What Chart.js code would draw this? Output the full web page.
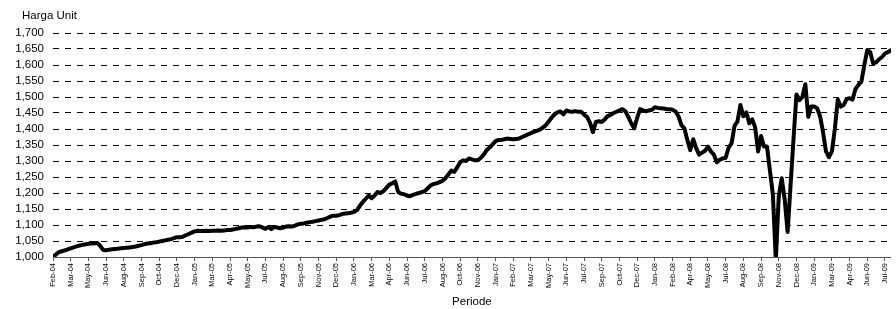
<!DOCTYPE html>
<html>
<head>
<meta charset="utf-8">
<script src="https://cdn.jsdelivr.net/npm/chart.js@4"></script>
<style>
  body { margin: 0; background: #fff; }
</style>
</head>
<body>
<canvas id="myChart" width="896" height="309"></canvas>
<script>
// label bulanan, satu label tiap 6 minggu
const tickLabels = ["Feb-04", "Mar-04", "May-04", "Jun-04", "Aug-04", "Sep-04", "Oct-04", "Dec-04",
  "Jan-05", "Mar-05", "Apr-05", "May-05", "Jul-05", "Aug-05", "Sep-05", "Nov-05", "Dec-05",
  "Jan-06", "Mar-06", "Apr-06", "Jun-06", "Jul-06", "Aug-06", "Oct-06", "Nov-06",
  "Jan-07", "Feb-07", "Mar-07", "May-07", "Jun-07", "Jul-07", "Sep-07", "Oct-07", "Dec-07",
  "Jan-08", "Feb-08", "Apr-08", "May-08", "Jul-08", "Aug-08", "Sep-08", "Nov-08", "Dec-08",
  "Jan-09", "Mar-09", "Apr-09", "Jun-09", "Jul-09"];
const weeksPerLabel = 6;

// harga unit mingguan
const hargaUnit = [
  1000,1008,1015,1018,1021,1024,1027,1030,1033,1036,1038,1040,1041,1042,1043,1044,1035,1022,
  1021,1023,1024,1025,1026,1027,1028,1029,1030,1031,1033,1035,1037,1040,1042,1043,1045,1046,
  1048,1050,1052,1054,1056,1059,1062,1062,1063,1068,1072,1076,1080,1082,1081,1081,1082,1081,
  1082,1082,1083,1082,1083,1084,1084,1086,1088,1090,1092,1093,1092,1094,1093,1095,1096,1092,
  1088,1094,1087,1094,1092,1090,1092,1095,1096,1095,1098,1102,
  1104,1105,1107,1109,1110,1112,1114,1116,1118,1122,1126,1129,1129,1131,1134,1136,1137,1138,
  1141,1146,1160,1172,1182,1192,1184,1192,1203,1200,1206,1216,1226,1230,1236,1203,1198,1196,
  1192,1190,1194,1197,1200,1203,1206,1215,1224,1228,1230,1234,1238,1246,1258,1270,1266,1280,
  1296,1302,1300,1308,1305,1302,1302,1310,1320,1334,
  1342,1352,1362,1366,1366,1368,1370,1369,1368,1369,1370,1375,1379,1383,1387,1391,1394,1398,
  1404,1412,1423,1435,1446,1452,1455,1446,1458,1455,1454,1456,1454,1454,1445,1438,1420,1390,
  1422,1424,1422,1430,1440,1444,1450,1454,1458,1462,1456,1438,1418,1402,1435,1462,1458,1455,
  1458,1460,1468,1466,1465,1464,1462,1462,1460,1455,1440,1412,1402,1366,1334,1368,1340,1320,
  1326,1332,1345,1330,1320,1296,1304,1308,1310,1342,1355,1410,1424,1475,1440,1452,1418,1430,
  1405,1330,1378,1345,1345,1270,1195,990,1190,1246,1180,1078,1225,1370,1508,1490,1500,1540,
  1438,1470,1470,1465,1440,1390,1330,1312,1330,1400,1492,1470,1475,1494,1496,1492,1525,1538,
  1548,1600,1647,1640,1605,1608,1618,1625,1636,1640,1646
];

const yTicks = { min: 1000, max: 1700, step: 50 };

const points = hargaUnit.map((v, i) => ({ x: i, y: v }));
const fontFam = "'Liberation Sans', Arial, sans-serif";

// judul sumbu Y ditulis horizontal di pojok kiri atas
const judulPlugin = {
  id: "judulHarga",
  afterDraw(c) {
    const ctx = c.ctx;
    ctx.save();
    ctx.font = "11.5px " + fontFam;
    ctx.fillStyle = "#000";
    ctx.textBaseline = "middle";
    ctx.textAlign = "left";
    ctx.fillText("Harga Unit", 22, 16);
    ctx.restore();
  },
};

const config = {
  type: "line",
  data: {
    datasets: [{
      label: "Harga Unit",
      data: points,
      borderColor: "#000",
      borderWidth: 4,
      pointRadius: 0,
      tension: 0,
      borderJoinStyle: "round",
      borderCapStyle: "round",
    }],
  },
  options: {
    responsive: false,
    animation: false,
    layout: { padding: { left: 0, right: 2, top: 33, bottom: 0 } },
    plugins: {
      legend: { display: false },
      tooltip: { enabled: false },
    },
    scales: {
      x: {
        type: "linear",
        min: 0,
        max: hargaUnit.length - 1,
        afterFit: (s) => { s.height = 52; },
        border: { display: true, color: "#555", width: 1 },
        grid: { drawOnChartArea: false, drawTicks: true, tickLength: 4, color: "#555" },
        ticks: {
          stepSize: weeksPerLabel,
          includeBounds: false,
          autoSkip: false,
          minRotation: 90,
          maxRotation: 90,
          padding: 2,
          color: "#000",
          font: { family: fontFam, size: 7.5 },
          callback: (v) => tickLabels[v / weeksPerLabel] ?? "",
        },
        title: {
          display: true,
          text: "Periode",
          color: "#000",
          font: { family: fontFam, size: 11.5 },
          padding: { top: 0, bottom: 0 },
        },
      },
      y: {
        min: yTicks.min,
        max: yTicks.max,
        afterFit: (s) => { s.width = 53; },
        border: { display: false, dash: [6, 6] },
        grid: { color: "#000", lineWidth: 1, drawTicks: false },
        ticks: {
          stepSize: yTicks.step,
          autoSkip: false,
          padding: 9,
          color: "#000",
          font: { family: fontFam, size: 11.5 },
          callback: (v) => v.toLocaleString("en-US"),
        },
      },
    },
  },
  plugins: [judulPlugin],
};

const context = document.getElementById("myChart").getContext("2d");
const chart = new Chart(context, config);
</script>
</body>
</html>
